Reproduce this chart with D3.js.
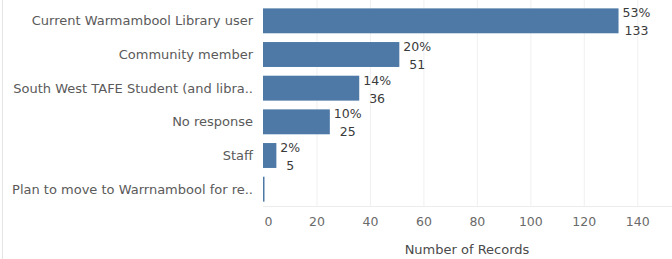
<html>
<head>
  <style>
  body { margin: 0; background: #fff; }
  text { font-family: "DejaVu Sans", sans-serif; }
  </style>
</head>
<body>
  <div id="elm"></div>
  <script src="https://d3js.org/d3.v7.min.js"></script>
  <script>
  'use strict';

  var categories = ['Current Warmambool Library user', 'Community member',
    'South West TAFE Student (and libra..', 'No response', 'Staff',
    'Plan to move to Warrnambool for re..'];
  var counts = [133, 51, 36, 25, 5, 0];
  var percents = ['53%', '20%', '14%', '10%', '2%', ''];
  var ticks = [0, 20, 40, 60, 80, 100, 120, 140];

  var width = 672, height = 259;
  var plotLeft = 263, plotRight = 672, plotTop = 4, plotBottom = 206;
  var font = '"DejaVu Sans", sans-serif';

  var svg = d3.select('#elm').append('svg').attr('width', width).attr('height', height);

  var x = d3.scaleLinear().domain([0, 153]).range([plotLeft, plotRight]);
  var y = d3.scaleBand().domain(categories).range([plotTop, plotBottom]).paddingInner(0.26).paddingOuter(0.13);

  // faint left border of the view
  svg.append('line').attr('x1', 2.5).attr('x2', 2.5).attr('y1', 0).attr('y2', height)
    .attr('stroke', '#e4e4e4');

  // grid
  svg.append('g').selectAll('line').data(ticks.slice(1)).enter().append('line')
    .attr('x1', d => x(d) + 0.5).attr('x2', d => x(d) + 0.5)
    .attr('y1', 0).attr('y2', plotBottom)
    .attr('stroke', '#f0f0f0');
  svg.append('line').attr('x1', plotLeft).attr('x2', plotRight)
    .attr('y1', plotBottom + 0.5).attr('y2', plotBottom + 0.5)
    .attr('stroke', '#ececec');

  // bars
  svg.append('g').selectAll('rect').data(counts).enter().append('rect')
    .attr('x', x(0))
    .attr('y', (d, i) => y(categories[i]))
    .attr('width', d => Math.max(1.5, x(d) - x(0)))
    .attr('height', y.bandwidth())
    .attr('fill', '#4e79a7');

  // category labels
  svg.append('g').selectAll('text').data(categories).enter().append('text')
    .attr('x', plotLeft - 10)
    .attr('y', d => y(d) + y.bandwidth() / 2)
    .attr('dy', '0.35em')
    .attr('text-anchor', 'end')
    .attr('font-size', 13)
    .attr('fill', '#5a5a5a')
    .text(d => d);

  // value labels: percent above, count below, centred on each other
  var labels = svg.append('g');
  counts.forEach(function(d, i) {
    if (!d) return;
    var cy = y(categories[i]) + y.bandwidth() / 2;
    var g = labels.append('g');
    var p = g.append('text').attr('font-size', 12.5).attr('fill', '#3a3a3a')
      .attr('text-anchor', 'middle').attr('y', cy - 8).attr('dy', '0.35em')
      .text(percents[i]);
    var w = p.node().getComputedTextLength();
    var cx = x(d) + 4 + w / 2;
    p.attr('x', cx);
    g.append('text').attr('font-size', 12.5).attr('fill', '#3a3a3a')
      .attr('text-anchor', 'middle').attr('x', cx).attr('y', cy + 10).attr('dy', '0.35em')
      .text(d);
  });

  // x axis
  var axis = d3.axisBottom(x).tickValues(ticks).tickSize(0).tickPadding(0);
  var ax = svg.append('g').attr('transform', 'translate(0,217)').call(axis);
  ax.select('.domain').remove();
  ax.selectAll('text').attr('font-size', 12.5).attr('fill', '#6a6a6a')
    .attr('font-family', font)
    .attr('dx', d => d === 0 ? 5 : 0);

  svg.append('text').attr('x', 467).attr('y', 249).attr('dy', '0.35em')
    .attr('text-anchor', 'middle').attr('font-size', 13).attr('fill', '#4a4a4a')
    .text('Number of Records');
  </script>
</body>
</html>
